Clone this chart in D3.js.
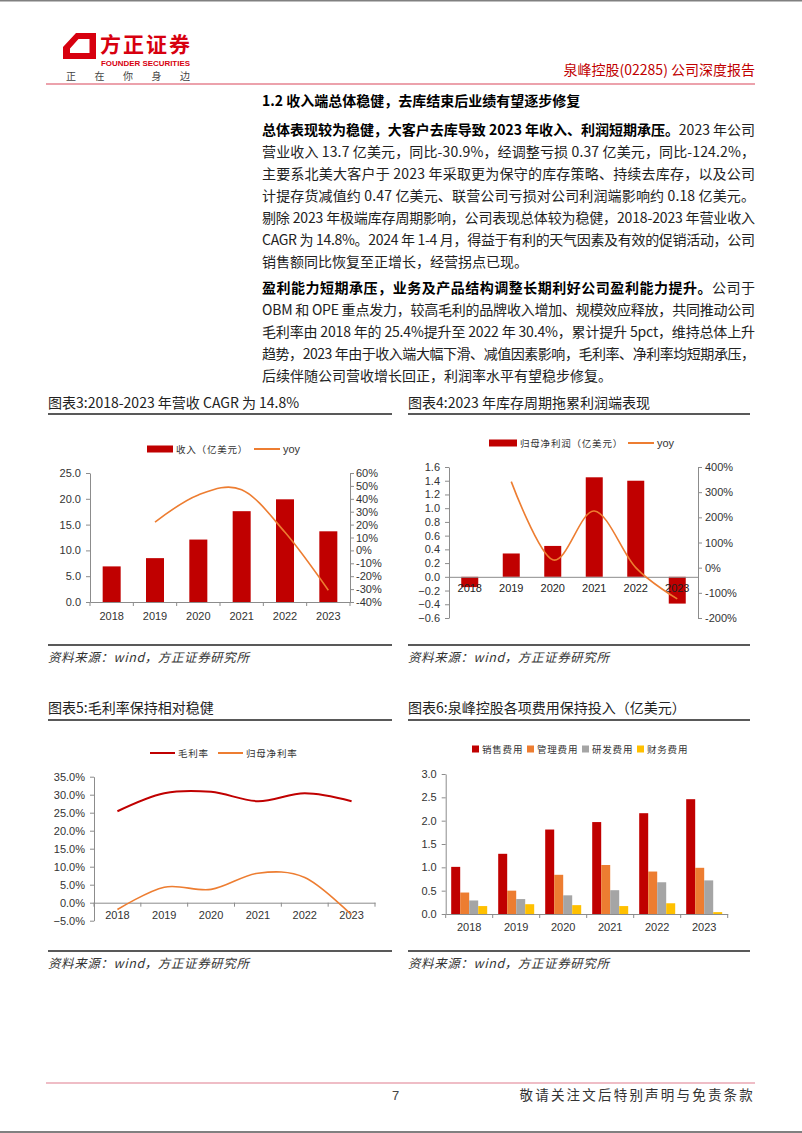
<!DOCTYPE html>
<html><head><meta charset="utf-8">
<script src="https://cdn.jsdelivr.net/npm/d3@7"></script>
<style>body{margin:0;background:#fff}svg{display:block}</style>
</head><body>
<svg id="page" width="802" height="1133"></svg>
<script>
// ---------- DATA ----------
const years = ["2018","2019","2020","2021","2022","2023"];
// 图表3
const revenue = [6.9, 8.5, 12.1, 17.6, 19.9, 13.7];
const revenueYoy = [null, 22, 43, 47, 14, -30.9];
const revLeftTicks = [0, 5, 10, 15, 20, 25];
const revRightTicks = [-40,-30,-20,-10,0,10,20,30,40,50,60];
// 图表4
const netProfit = [-0.15, 0.34, 0.45, 1.45, 1.40, -0.39];
const netProfitYoy = [null, 342, 31, 225, 0, -124.2];
const npLeftTicks = [-0.6,-0.4,-0.2,0,0.2,0.4,0.6,0.8,1.0,1.2,1.4,1.6];
const npRightTicks = [-200,-100,0,100,200,300,400];
// 图表5
const grossMargin = [25.4, 30.4, 30.8, 28.2, 30.4, 28.2];
const netMargin = [-1.9, 4.3, 3.7, 8.2, 7.0, -3.4];
const marginTicks = [-5,0,5,10,15,20,25,30,35];
// 图表6
const expenseNames = ["销售费用","管理费用","研发费用","财务费用"];
const sellingExp = [1.01, 1.29, 1.81, 1.97, 2.16, 2.46];
const adminExp = [0.46, 0.50, 0.84, 1.05, 0.91, 0.99];
const rdExp = [0.29, 0.32, 0.40, 0.51, 0.68, 0.72];
const finExp = [0.17, 0.21, 0.19, 0.17, 0.23, 0.04];
const expTicks = [0, 0.5, 1.0, 1.5, 2.0, 2.5, 3.0];

// ---------- STYLE ----------
const CJK = "'Noto Sans CJK SC','Noto Sans',sans-serif";
const NUM = "'Liberation Sans',Arial,sans-serif";
const RED = "#c00000", ORANGE = "#ed7d31", GRAY = "#a5a5a5", YELLOW = "#ffc000";
const AXIS = "#8c8c8c";

const svg = d3.select("#page");

// page border lines
svg.append("line").attr("x1",0).attr("x2",802).attr("y1",0.5).attr("y2",0.5).attr("stroke","#808080").attr("stroke-width",2);
svg.append("line").attr("x1",0).attr("x2",802).attr("y1",1132).attr("y2",1132).attr("stroke","#808080").attr("stroke-width",2);

// ---------- HEADER ----------
svg.append("path")
  .attr("d","M76 33 L96 33 L96 59 L63 59 L63 47 Z M78.5 39 L70 48.5 L70 53 L89.5 53 L89.5 39 Z")
  .attr("fill","#d7000f").attr("fill-rule","evenodd");
svg.append("text").attr("x",100).attr("y",52).attr("font-family",CJK).attr("font-weight","bold")
  .attr("font-size",21).attr("fill","#d7000f").attr("textLength",90).text("方正证券");
svg.append("text").attr("x",101).attr("y",65.5).attr("font-family",NUM).attr("font-weight","bold")
  .attr("font-size",8).attr("fill","#d7000f").attr("textLength",89).attr("lengthAdjust","spacingAndGlyphs").text("FOUNDER SECURITIES");
["正","在","你","身","边"].forEach((c,i)=>{
  svg.append("text").attr("x",66+i*28.5).attr("y",80).attr("font-family",CJK).attr("font-size",10)
    .attr("fill","#444").text(c);
});
svg.append("text").attr("x",755).attr("y",75).attr("text-anchor","end").attr("font-family",CJK)
  .attr("font-size",14).attr("fill",RED).text("泉峰控股(02285) 公司深度报告");
svg.append("line").attr("x1",46).attr("x2",755).attr("y1",84).attr("y2",84).attr("stroke","#d9475a").attr("stroke-width",1.2);

// ---------- BODY TEXT ----------
svg.append("text").attr("x",262).attr("y",106).attr("font-family",CJK).attr("font-weight","bold")
  .attr("font-size",14).attr("fill","#000").text("1.2 收入端总体稳健，去库结束后业绩有望逐步修复");

const para1 = [
  [["总体表现较为稳健，大客户去库导致 2023 年收入、利润短期承压。",true],["2023 年公司",false]],
  [["营业收入 13.7 亿美元，同比-30.9%，经调整亏损 0.37 亿美元，同比-124.2%，",false]],
  [["主要系北美大客户于 2023 年采取更为保守的库存策略、持续去库存，以及公司",false]],
  [["计提存货减值约 0.47 亿美元、联营公司亏损对公司利润端影响约 0.18 亿美元。",false]],
  [["剔除 2023 年极端库存周期影响，公司表现总体较为稳健，2018-2023 年营业收入",false]],
  [["CAGR 为 14.8%。2024 年 1-4 月，得益于有利的天气因素及有效的促销活动，公司",false]],
  [["销售额同比恢复至正增长，经营拐点已现。",false]]
];
const para2 = [
  [["盈利能力短期承压，业务及产品结构调整长期利好公司盈利能力提升。",true],["公司于",false]],
  [["OBM 和 OPE 重点发力，较高毛利的品牌收入增加、规模效应释放，共同推动公司",false]],
  [["毛利率由 2018 年的 25.4%提升至 2022 年 30.4%，累计提升 5pct，维持总体上升",false]],
  [["趋势，2023 年由于收入端大幅下滑、减值因素影响，毛利率、净利率均短期承压，",false]],
  [["后续伴随公司营收增长回正，利润率水平有望稳步修复。",false]]
];
function drawPara(lines, y0){
  lines.forEach((segs,i)=>{
    const t = svg.append("text").attr("x",262).attr("y",y0+i*22).attr("font-family",CJK)
      .attr("font-size",14).attr("fill","#111");
    if(i < lines.length-1) t.attr("textLength",493).attr("lengthAdjust","spacing");
    segs.forEach(([s,b])=>{
      t.append("tspan").attr("font-weight",b?"bold":"normal").attr("fill",b?"#000":"#222").text(s);
    });
  });
}
drawPara(para1, 135);
drawPara(para2, 293);

// ---------- CHART FRAME HELPERS ----------
function frame(x0, x1, titleY, lineY, srcLineY, title){
  svg.append("text").attr("x",x0).attr("y",titleY).attr("font-family",CJK).attr("font-size",14)
    .attr("fill","#222").text(title);
  svg.append("line").attr("x1",x0).attr("x2",x1).attr("y1",lineY).attr("y2",lineY).attr("stroke","#222").attr("stroke-width",1.5);
  svg.append("line").attr("x1",x0).attr("x2",x1).attr("y1",srcLineY).attr("y2",srcLineY).attr("stroke","#222").attr("stroke-width",1.5);
  svg.append("text").attr("x",x0).attr("y",srcLineY+17).attr("font-family",CJK).attr("font-size",12.5)
    .attr("font-style","italic").attr("fill","#333").attr("letter-spacing",0.6).text("资料来源：wind，方正证券研究所");
}
function styleAxis(g){
  g.selectAll("path.domain").attr("stroke",AXIS);
  g.selectAll(".tick line").attr("stroke",AXIS);
  g.selectAll(".tick text").attr("font-family",NUM).attr("font-size",11).attr("fill","#333");
}
function legendRect(x, y, w, h, color, label){
  svg.append("rect").attr("x",x).attr("y",y-h/2).attr("width",w).attr("height",h).attr("fill",color);
  svg.append("text").attr("x",x+w+3).attr("y",y+3.5).attr("font-family",CJK).attr("font-size",9.5)
    .attr("fill","#333").attr("letter-spacing",0.8).text(label);
}
function legendLine(x, y, w, color, label, isNum){
  svg.append("line").attr("x1",x).attr("x2",x+w).attr("y1",y).attr("y2",y).attr("stroke",color).attr("stroke-width",2);
  svg.append("text").attr("x",x+w+3).attr("y",y+3.5).attr("font-family",isNum?NUM:CJK).attr("font-size",isNum?11:9.5)
    .attr("fill","#333").attr("letter-spacing",isNum?0:0.8).text(label);
}
function xBoundaryTicks(xs, y){
  const bounds = xs.domain().map(d=>xs(d)).concat([xs.range()[1]]);
  svg.append("g").selectAll("line").data(bounds).join("line")
    .attr("x1",d=>d).attr("x2",d=>d).attr("y1",y).attr("y2",y+4).attr("stroke",AXIS);
}
const smooth = d3.curveCatmullRom.alpha(0);

// ---------- 图表3 ----------
frame(48, 392, 408, 414, 645, "图表3:2018-2023 年营收 CAGR 为 14.8%");
{
  const x = d3.scaleBand().domain(years).range([90,350]);
  const y = d3.scaleLinear().domain([0,25]).range([602,473]);
  const y2 = d3.scaleLinear().domain([-40,60]).range([602,473]);
  const bw = 18;
  svg.append("g").selectAll("rect").data(years).join("rect")
    .attr("x",d=>x(d)+x.bandwidth()/2-bw/2).attr("width",bw)
    .attr("y",(d,i)=>y(revenue[i])).attr("height",(d,i)=>y(0)-y(revenue[i])).attr("fill",RED);
  const gl = svg.append("g").attr("transform","translate(90,0)")
    .call(d3.axisLeft(y).tickValues(revLeftTicks).tickFormat(d3.format(".1f")).tickSize(4).tickSizeOuter(0).tickPadding(5));
  styleAxis(gl);
  const gr = svg.append("g").attr("transform","translate(350,0)")
    .call(d3.axisRight(y2).tickValues(revRightTicks).tickFormat(d=>d+"%").tickSize(4).tickSizeOuter(0).tickPadding(2));
  styleAxis(gr);
  const gb = svg.append("g").attr("transform","translate(0,602)")
    .call(d3.axisBottom(x).tickSize(0).tickSizeOuter(0).tickPadding(10));
  styleAxis(gb);
  xBoundaryTicks(x, 602);
  const pts = years.map((d,i)=>[x(d)+x.bandwidth()/2, revenueYoy[i]]).filter(p=>p[1]!==null);
  svg.append("path").datum(pts).attr("fill","none").attr("stroke",ORANGE).attr("stroke-width",1.6)
    .attr("d",d3.line().x(p=>p[0]).y(p=>y2(p[1])).curve(smooth));
  legendRect(147, 449, 26, 7, RED, "收入（亿美元）");
  legendLine(254, 449, 26, ORANGE, "yoy", true);
}

// ---------- 图表4 ----------
frame(408, 750, 408, 414, 645, "图表4:2023 年库存周期拖累利润端表现");
{
  const x = d3.scaleBand().domain(years).range([449,698]);
  const y = d3.scaleLinear().domain([-0.6,1.6]).range([618,467]);
  const y2 = d3.scaleLinear().domain([-200,400]).range([618,467]);
  const bw = 17;
  svg.append("g").selectAll("rect").data(years).join("rect")
    .attr("x",d=>x(d)+x.bandwidth()/2-bw/2).attr("width",bw)
    .attr("y",(d,i)=>y(Math.max(0,netProfit[i]))).attr("height",(d,i)=>Math.abs(y(netProfit[i])-y(0))).attr("fill",RED);
  const gl = svg.append("g").attr("transform","translate(449,0)")
    .call(d3.axisLeft(y).tickValues(npLeftTicks).tickFormat(d3.format(".1f")).tickSize(4).tickSizeOuter(0).tickPadding(5));
  styleAxis(gl);
  const gr = svg.append("g").attr("transform","translate(698,0)")
    .call(d3.axisRight(y2).tickValues(npRightTicks).tickFormat(d=>d+"%").tickSize(4).tickSizeOuter(0).tickPadding(3));
  styleAxis(gr);
  const gb = svg.append("g").attr("transform",`translate(0,${y(0)})`)
    .call(d3.axisBottom(x).tickSize(0).tickSizeOuter(0).tickPadding(7));
  styleAxis(gb);
  gb.selectAll(".tick text").attr("fill","#222");
  const pts = years.map((d,i)=>[x(d)+x.bandwidth()/2, netProfitYoy[i]]).filter(p=>p[1]!==null);
  svg.append("path").datum(pts).attr("fill","none").attr("stroke",ORANGE).attr("stroke-width",1.6)
    .attr("d",d3.line().x(p=>p[0]).y(p=>y2(p[1])).curve(smooth));
  legendRect(489, 443, 28, 7, RED, "归母净利润（亿美元）");
  legendLine(628, 443, 26, ORANGE, "yoy", true);
}

// ---------- 图表5 ----------
frame(48, 392, 713, 720, 951, "图表5:毛利率保持相对稳健");
{
  const x = d3.scaleBand().domain(years).range([94,375]);
  const y = d3.scaleLinear().domain([-5,35]).range([920.7,776.7]);
  const gl = svg.append("g").attr("transform","translate(94,0)")
    .call(d3.axisLeft(y).tickValues(marginTicks).tickFormat(d=>d3.format(".1f")(d)+"%").tickSize(4).tickSizeOuter(0).tickPadding(5));
  styleAxis(gl);
  const gb = svg.append("g").attr("transform",`translate(0,${y(0)})`)
    .call(d3.axisBottom(x).tickSize(0).tickSizeOuter(0).tickPadding(9));
  styleAxis(gb);
  xBoundaryTicks(x, y(0));
  const line = d3.line().x(p=>p[0]).y(p=>y(p[1])).curve(smooth);
  svg.append("path").datum(years.map((d,i)=>[x(d)+x.bandwidth()/2, grossMargin[i]]))
    .attr("fill","none").attr("stroke",RED).attr("stroke-width",2).attr("d",line);
  svg.append("path").datum(years.map((d,i)=>[x(d)+x.bandwidth()/2, netMargin[i]]))
    .attr("fill","none").attr("stroke",ORANGE).attr("stroke-width",1.6).attr("d",line);
  legendLine(150, 753, 25, RED, "毛利率", false);
  legendLine(218, 753, 25, ORANGE, "归母净利率", false);
}

// ---------- 图表6 ----------
frame(408, 750, 713, 720, 951, "图表6:泉峰控股各项费用保持投入（亿美元）");
{
  const x = d3.scaleBand().domain(years).range([445.7,727.7]);
  const sub = d3.scaleBand().domain(expenseNames).range([0,36]);
  const y = d3.scaleLinear().domain([0,3]).range([914,774]);
  const series = [sellingExp, adminExp, rdExp, finExp];
  const colors = [RED, ORANGE, GRAY, YELLOW];
  series.forEach((vals, k)=>{
    svg.append("g").selectAll("rect").data(years).join("rect")
      .attr("x",d=>x(d)+x.bandwidth()/2-18+sub(expenseNames[k])).attr("width",sub.bandwidth())
      .attr("y",(d,i)=>y(vals[i])).attr("height",(d,i)=>y(0)-y(vals[i])).attr("fill",colors[k]);
  });
  const gl = svg.append("g").attr("transform","translate(445.7,0)")
    .call(d3.axisLeft(y).tickValues(expTicks).tickFormat(d3.format(".1f")).tickSize(4).tickSizeOuter(0).tickPadding(5));
  styleAxis(gl);
  const gb = svg.append("g").attr("transform","translate(0,914)")
    .call(d3.axisBottom(x).tickSize(0).tickSizeOuter(0).tickPadding(9));
  styleAxis(gb);
  xBoundaryTicks(x, 914);
  expenseNames.forEach((n,k)=>legendRect(472+k*55, 749, 7, 7, colors[k], n));
}

// ---------- FOOTER ----------
svg.append("line").attr("x1",46).attr("x2",755).attr("y1",1083).attr("y2",1083).attr("stroke","#e07c8e").attr("stroke-width",1.2);
svg.append("text").attr("x",392).attr("y",1100).attr("font-family",NUM).attr("font-size",13).attr("fill","#444").text("7");
svg.append("text").attr("x",755).attr("y",1100).attr("text-anchor","end").attr("font-family",CJK)
  .attr("font-size",13.5).attr("fill","#333").attr("letter-spacing",2.2).text("敬请关注文后特别声明与免责条款");
</script>
</body></html>
